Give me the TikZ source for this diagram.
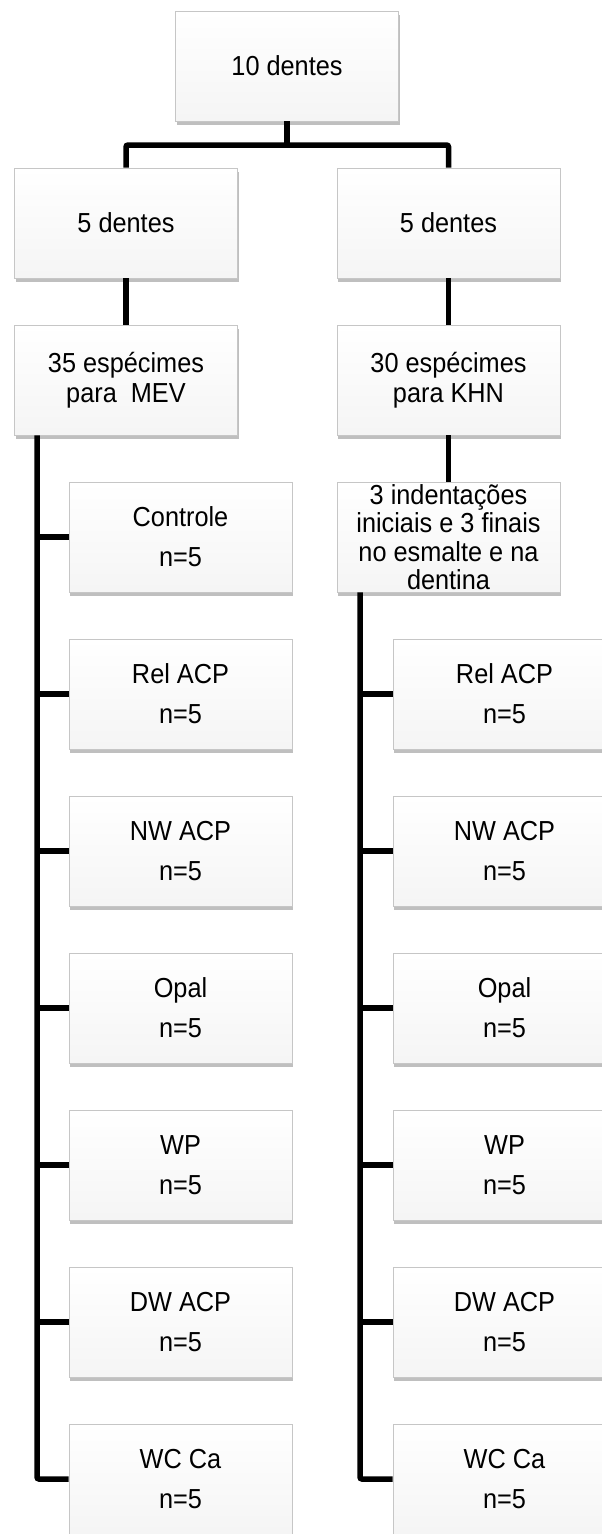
\documentclass[tikz,border=0pt]{standalone}
\usepackage{fontspec}
\setmainfont{Liberation Sans}[FakeStretch=0.92]
\usetikzlibrary{shadows}
\begin{document}
\begin{tikzpicture}[x=1pt,y=-1pt,
  box/.style={rectangle, draw=gray!45, line width=0.8pt, top color=white, bottom color=gray!8,
    minimum width=223pt, minimum height=110pt, align=center, inner sep=0pt,
    font=\fontsize{27.5}{30}\selectfont,
    drop shadow={shadow xshift=1pt, shadow yshift=-3.5pt, opacity=0.5, fill=gray}},
  leaf/.style={box, font=\fontsize{27.5}{40}\selectfont},
  dense/.style={box, font=\fontsize{27.5}{28.5}\selectfont},
  conn/.style={line width=5.5pt, black, rounded corners=2pt}]
\useasboundingbox (0,0) rectangle (602,1534);
\clip (0,0) rectangle (602,1534);
\fill[white] (0,0) rectangle (602,1534);
% nodes
\node[box] (top) at (287,66) {10 dentes};
\node[box] (l2a) at (126,223) {5 dentes};
\node[box] (l2b) at (448.5,223) {5 dentes};
\node[box] (l3a) at (126,380) {35 espécimes\\para\ \ MEV};
\node[box] (l3b) at (448.5,380) {30 espécimes\\para KHN};
\node[dense] (ind) at (448.5,537) {3 indentações\\iniciais e 3 finais\\no esmalte e na\\dentina};
% left children
\node[leaf] (a1) at (180.5,537) {Controle\\n=5};
\node[leaf] (a2) at (180.5,694) {Rel ACP\\n=5};
\node[leaf] (a3) at (180.5,851) {NW ACP\\n=5};
\node[leaf] (a4) at (180.5,1008) {Opal\\n=5};
\node[leaf] (a5) at (180.5,1165) {WP\\n=5};
\node[leaf] (a6) at (180.5,1322) {DW ACP\\n=5};
\node[leaf] (a7) at (180.5,1479) {WC Ca\\n=5};
% right children
\node[leaf] (b2) at (504.5,694) {Rel ACP\\n=5};
\node[leaf] (b3) at (504.5,851) {NW ACP\\n=5};
\node[leaf] (b4) at (504.5,1008) {Opal\\n=5};
\node[leaf] (b5) at (504.5,1165) {WP\\n=5};
\node[leaf] (b6) at (504.5,1322) {DW ACP\\n=5};
\node[leaf] (b7) at (504.5,1479) {WC Ca\\n=5};
% connectors
\coordinate (j) at (287,145);
\draw[conn] (top.south) -- (j);
\draw[conn] (l2a.north) |- (j) -| (l2b.north);
\draw[conn] (l2a.south) -- (l3a.north);
\draw[conn] (l2b.south) -- (l3b.north);
\draw[conn] (l3b.south) -- (ind.north);
\coordinate (tl) at (37,0);
\coordinate (tr) at (360,0);
\draw[conn] (tl |- l3a.south) |- (a7.west);
\foreach \n in {a1,a2,a3,a4,a5,a6}{\draw[conn] (tl |- \n.west) -- (\n.west);}
\draw[conn] (tr |- ind.south) |- (b7.west);
\foreach \n in {b2,b3,b4,b5,b6}{\draw[conn] (tr |- \n.west) -- (\n.west);}
\end{tikzpicture}
\end{document}
